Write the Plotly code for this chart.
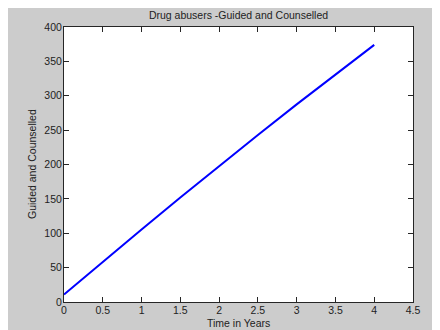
import plotly.graph_objects as go

years = [0, 0.5, 1.0, 1.5, 2.0, 2.5, 3.0, 3.5, 4.0]
guided = [11, 58.5, 105.5, 152, 198, 243, 287.5, 331, 374]

x_ticks = [0, 0.5, 1, 1.5, 2, 2.5, 3, 3.5, 4, 4.5]
x_tick_text = ["0", "0.5", "1", "1.5", "2", "2.5", "3", "3.5", "4", "4.5"]
y_ticks = [0, 50, 100, 150, 200, 250, 300, 350, 400]

FONT = "Liberation Sans, Arial, sans-serif"
AX = "#262626"
TXT = "#222"

# page has an 8px body margin; figure coordinates below are page minus 8
W, H = 432, 322
L, R, T, B = 56, 405, 19, 294
pw, ph = R - L, B - T

fig = go.Figure()
fig.add_trace(go.Scatter(x=years, y=guided, mode="lines",
                         line=dict(color="#0000ff", width=2), showlegend=False,
                         hoverinfo="skip"))

fig.update_layout(
    width=W, height=H, autosize=False,
    margin=dict(l=L, r=W - R, t=T, b=H - B, pad=0),
    paper_bgcolor="#cccccc", plot_bgcolor="white",
    font=dict(family=FONT, size=10.5, color=TXT),
    title=dict(text="Drug abusers -Guided and Counselled", x=0.5, xref="paper",
               xanchor="center", y=1 - 7.5 / H, yanchor="middle",
               font=dict(family=FONT, size=10.5, color=TXT)),
    annotations=[
        dict(text="Time in Years", xref="paper", yref="paper",
             x=0.5, y=(B - 315) / ph, xanchor="center", yanchor="middle",
             showarrow=False, font=dict(family=FONT, size=10.5, color=TXT)),
        dict(text="Guided and Counselled", xref="paper", yref="paper",
             x=(23.5 - L) / pw, y=0.5, xanchor="center", yanchor="middle",
             textangle=-90, showarrow=False,
             font=dict(family=FONT, size=10.5, color=TXT)),
    ],
)

fig.update_xaxes(range=[0, 4.5], tickvals=x_ticks, ticktext=x_tick_text,
                 ticks="inside", ticklen=5, tickcolor=AX, tickwidth=1,
                 showline=True, linecolor=AX, linewidth=1, mirror="allticks",
                 showgrid=False, zeroline=False, automargin=False,
                 ticklabelstandoff=-2,
                 tickfont=dict(family=FONT, size=10.5, color=TXT))
fig.update_yaxes(range=[0, 400], tickvals=y_ticks,
                 ticks="inside", ticklen=5, tickcolor=AX, tickwidth=1,
                 showline=True, linecolor=AX, linewidth=1, mirror="allticks",
                 showgrid=False, zeroline=False, automargin=False,
                 ticklabelstandoff=-1,
                 tickfont=dict(family=FONT, size=10.5, color=TXT))

fig.write_html("out.html")
